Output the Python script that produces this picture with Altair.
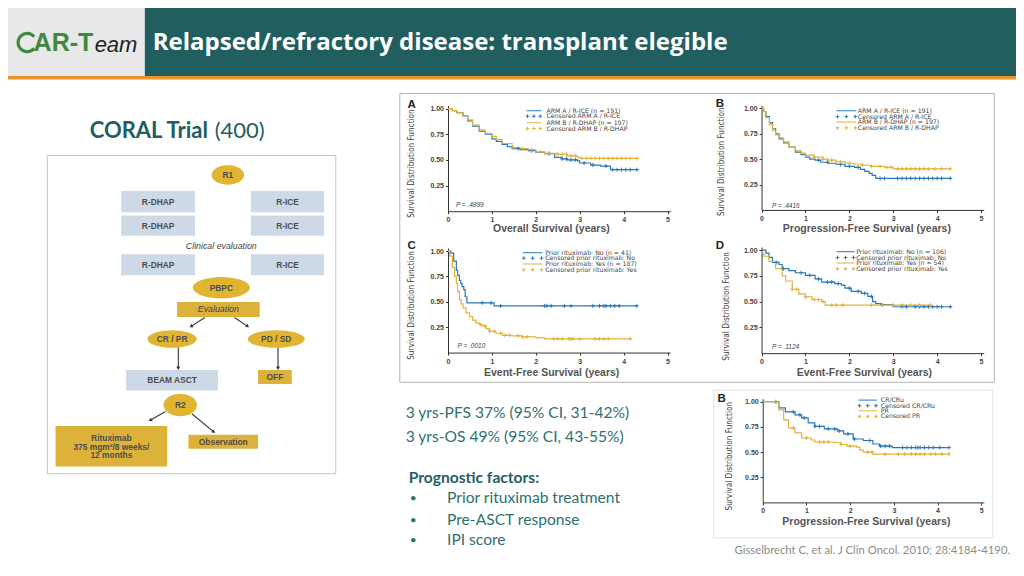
import math
import altair as alt
import pandas as pd

W, H = 1008, 560
SX, SY = W / 1024, H / 576

BLUE = "#2b78b8"
GOLD = "#e0b33a"

# ---------------- Kaplan-Meier curves ----------------
# Panel A - overall survival by arm
A_ICE_T = [0, 0.1, 0.2, 0.34, 0.45, 0.56, 0.71, 0.85, 1.0, 1.1, 1.23, 1.35, 1.46, 1.65, 1.83, 2.0, 2.2, 2.43, 2.6, 2.72, 2.95, 3.0, 3.25, 3.47, 3.7, 4.33]
A_ICE_S = [1.0, 0.98, 0.96, 0.93, 0.88, 0.83, 0.78, 0.75, 0.705, 0.68, 0.65, 0.63, 0.61, 0.60, 0.59, 0.575, 0.56, 0.525, 0.51, 0.50, 0.49, 0.47, 0.45, 0.44, 0.405, 0.40]
A_ICE_C = [1.6, 1.9, 2.3, 2.6, 2.7, 2.8, 2.9, 3.1, 3.3, 3.6, 3.75, 3.85, 3.95, 4.05, 4.15, 4.3]
A_DHAP_T = [0, 0.1, 0.2, 0.34, 0.45, 0.56, 0.71, 0.85, 1.0, 1.1, 1.23, 1.46, 1.65, 1.83, 2.0, 2.2, 2.5, 2.72, 2.95, 3.0, 4.33]
A_DHAP_S = [1.0, 0.98, 0.96, 0.93, 0.89, 0.84, 0.79, 0.76, 0.73, 0.70, 0.66, 0.62, 0.61, 0.60, 0.58, 0.565, 0.555, 0.54, 0.525, 0.515, 0.515]
A_DHAP_C = [1.5, 1.7, 1.9, 2.1, 2.3, 2.5, 2.6, 2.7, 2.8, 2.9, 3.05, 3.15, 3.25, 3.35, 3.45, 3.55, 3.65, 3.75, 3.85, 3.95, 4.05, 4.15, 4.3]

# Panel B - progression-free survival by arm
B_ICE_T = [0, 0.05, 0.1, 0.18, 0.25, 0.32, 0.4, 0.5, 0.62, 0.77, 0.9, 1.0, 1.1, 1.22, 1.35, 1.52, 1.7, 1.9, 2.12, 2.25, 2.35, 2.45, 2.52, 2.6, 4.3]
B_ICE_S = [1.0, 0.97, 0.92, 0.86, 0.80, 0.75, 0.70, 0.66, 0.62, 0.57, 0.545, 0.52, 0.50, 0.49, 0.47, 0.46, 0.45, 0.43, 0.42, 0.40, 0.38, 0.36, 0.34, 0.31, 0.31]
B_ICE_C = [1.3, 1.5, 1.8, 2.0, 2.2, 2.7, 2.8, 3.1, 3.2, 3.3, 3.4, 3.5, 3.6, 3.7, 3.8, 3.9, 4.0, 4.1, 4.3]
B_DHAP_T = [0, 0.05, 0.1, 0.18, 0.25, 0.32, 0.4, 0.5, 0.62, 0.77, 0.9, 1.0, 1.2, 1.4, 1.52, 1.7, 1.9, 2.1, 2.3, 2.5, 2.8, 3.0, 4.3]
B_DHAP_S = [1.0, 0.97, 0.91, 0.84, 0.78, 0.74, 0.71, 0.67, 0.62, 0.585, 0.56, 0.54, 0.52, 0.50, 0.49, 0.475, 0.46, 0.45, 0.44, 0.43, 0.42, 0.405, 0.405]
B_DHAP_C = [1.0, 1.2, 1.4, 1.6, 1.8, 2.0, 2.3, 2.5, 2.7, 2.85, 2.95, 3.1, 3.2, 3.3, 3.4, 3.5, 3.6, 3.7, 3.8, 3.95, 4.1, 4.3]

# Panel C - event-free survival by prior rituximab
C_NO_T = [0, 0.06, 0.13, 0.19, 0.22, 0.26, 0.29, 0.32, 0.36, 0.39, 0.43, 1.0, 1.05, 4.3]
C_NO_S = [1.0, 0.98, 0.90, 0.81, 0.76, 0.71, 0.68, 0.65, 0.62, 0.55, 0.49, 0.49, 0.46, 0.46]
C_NO_C = [0.78, 0.98, 1.2, 2.2, 2.25, 2.35, 2.65, 2.8, 3.3, 3.45, 3.55, 3.6, 3.7, 3.8, 3.9, 4.3]
C_YES_T = [0, 0.04, 0.1, 0.15, 0.19, 0.22, 0.26, 0.3, 0.34, 0.41, 0.49, 0.56, 0.64, 0.72, 0.79, 0.87, 0.94, 1.09, 1.24, 1.45, 1.69, 2.0, 2.2, 4.15]
C_YES_S = [1.0, 0.95, 0.84, 0.75, 0.68, 0.60, 0.52, 0.48, 0.44, 0.39, 0.355, 0.32, 0.29, 0.275, 0.26, 0.235, 0.21, 0.19, 0.17, 0.165, 0.155, 0.145, 0.135, 0.135]
C_YES_C = [0.75, 0.85, 0.95, 1.05, 1.2, 1.3, 1.4, 1.6, 1.7, 1.8, 2.4, 2.5, 2.6, 2.75, 2.8, 2.85, 3.0, 3.35, 3.45, 3.55, 3.65, 4.15]

# Panel D - event-free survival by prior rituximab (second cohort)
D_NO_T = [0, 0.1, 0.17, 0.25, 0.4, 0.47, 0.62, 0.77, 1.0, 1.22, 1.37, 1.67, 1.82, 1.9, 2.04, 2.27, 2.42, 2.53, 2.6, 2.72, 3.0, 4.33]
D_NO_S = [1.0, 0.97, 0.93, 0.88, 0.86, 0.82, 0.80, 0.78, 0.755, 0.72, 0.69, 0.675, 0.66, 0.63, 0.60, 0.58, 0.55, 0.50, 0.48, 0.47, 0.45, 0.45]
D_NO_C = [0.35, 0.5, 0.9, 1.1, 1.3, 1.5, 1.6, 1.75, 2.0, 2.2, 2.35, 2.5, 2.75, 3.2, 3.3, 3.5, 3.6, 3.7, 3.8, 3.9, 4.0, 4.1, 4.3]
D_YES_T = [0, 0.05, 0.17, 0.32, 0.47, 0.55, 0.7, 0.85, 1.0, 1.15, 1.37, 1.45, 3.85]
D_YES_S = [0.97, 0.94, 0.89, 0.82, 0.75, 0.70, 0.62, 0.575, 0.545, 0.52, 0.50, 0.465, 0.465]
D_YES_C = [0.7, 0.8, 1.0, 1.2, 1.3, 1.4, 1.6, 1.7, 1.85, 2.5, 2.75, 3.0, 3.2, 3.4, 3.6, 3.85]

# Panel B (bottom) - progression-free survival by pre-ASCT response
E_CR_T = [0, 0.26, 0.37, 0.52, 0.74, 0.89, 1.04, 1.19, 1.41, 1.71, 1.85, 2.07, 2.3, 2.52, 2.67, 2.96, 4.26]
E_CR_S = [1.0, 1.0, 0.94, 0.90, 0.87, 0.84, 0.79, 0.755, 0.73, 0.71, 0.68, 0.63, 0.615, 0.58, 0.56, 0.545, 0.545]
E_CR_C = [0.3, 0.7, 0.85, 0.95, 1.2, 1.3, 1.5, 1.65, 1.75, 1.95, 2.1, 2.45, 2.7, 2.8, 2.9, 3.2, 3.3, 3.4, 3.5, 3.55, 3.6, 3.7, 3.8, 3.9, 4.05, 4.26]
E_PR_T = [0, 0.26, 0.37, 0.48, 0.59, 0.74, 0.89, 1.11, 1.19, 1.63, 1.78, 1.93, 2.15, 2.22, 2.3, 2.52, 4.26]
E_PR_S = [1.0, 1.0, 0.92, 0.82, 0.74, 0.69, 0.64, 0.62, 0.60, 0.595, 0.575, 0.56, 0.55, 0.52, 0.50, 0.48, 0.48]
E_PR_C = [0.3, 0.7, 1.0, 1.3, 1.4, 1.5, 1.8, 2.0, 2.4, 2.5, 2.8, 3.1, 3.25, 3.4, 3.5, 3.6, 3.7, 3.85, 3.95, 4.1, 4.26]

X_TICKS = [0, 1, 2, 3, 4, 5]
Y_TICKS = [0.25, 0.5, 0.75, 1.0]

# ---------------- texts ----------------
TITLE = "Relapsed/refractory disease: transplant elegible"
LEG_A = ["ARM A / R-ICE (n = 191)", "Censored ARM A / R-ICE", "ARM B / R-DHAP (n = 197)", "Censored ARM B / R-DHAP"]
LEG_C = ["Prior rituximab: No (n = 41)", "Censored prior rituximab: No", "Prior rituximab: Yes (n = 187)", "Censored prior rituximab: Yes"]
LEG_D = ["Prior rituximab: No (n = 106)", "Censored prior rituximab: No", "Prior rituximab: Yes (n = 54)", "Censored prior rituximab: Yes"]
LEG_E = ["CR/CRu", "Censored CR/CRu", "PR", "Censored PR"]
P_VALUES = ["P = .4899", "P = .4416", "P = .0010", "P = .1124"]
LETTERS = ["A", "B", "C", "D", "B"]
X_TITLES = ["Overall Survival (years)", "Progression-Free Survival (years)", "Event-Free Survival (years)",
            "Event-Free Survival (years)", "Progression-Free Survival (years)"]
Y_TITLE = "Survival Distribution Function"
STATS = ["3 yrs-PFS 37% (95% CI, 31-42%)", "3 yrs-OS 49% (95% CI, 43-55%)"]
FACTORS = ["Prior rituximab treatment", "Pre-ASCT response", "IPI score"]
CITATION = "Gisselbrecht C, et al. J Clin Oncol. 2010; 28:4184-4190."

# ---------------- slide layout (slide pixel coordinates) ----------------
slide_x = alt.Scale(domain=[0, 1024], range=[0, W], nice=False, zero=False)
slide_y = alt.Scale(domain=[0, 576], range=[0, H], nice=False, zero=False)
NOAX = dict(axis=None)

FLOW_BLUE = "#cdd9e6"
FLOW_GOLD = "#dcb23a"
LOGO_GREEN = "#3d8a3f"

rect_rows = [
    (0, 0, 139, 70, "#e8e8e8"),
    (139, 0, 1024, 70, "#215e5f"),
    (0, 70, 1024, 73.5, "#e8962c"),
    (115, 188.3, 190, 210, FLOW_BLUE), (246.7, 188.3, 321, 210, FLOW_BLUE),
    (115, 213.3, 190, 234.3, FLOW_BLUE), (246.7, 213.3, 321, 234.3, FLOW_BLUE),
    (115, 253.3, 190, 275, FLOW_BLUE), (246.7, 253.3, 321, 275, FLOW_BLUE),
    (120, 372.3, 213.3, 393.3, FLOW_BLUE),
    (171.7, 302.3, 255.7, 317.7, FLOW_GOLD),
    (254, 372.3, 288.3, 386.7, FLOW_GOLD),
    (48.3, 430, 161.7, 471.7, FLOW_GOLD),
    (183.3, 439, 254, 453.3, FLOW_GOLD),
]
frame_rows = [
    (40, 151.7, 333, 479, "#c4c4c4"),
    (398, 88, 1002, 385, "#b4b4b4"),
    (717, 393, 1000, 545, "#e2e2e2"),
]
ellipse_rows = [  # cx, cy, w, h
    (223.3, 171.7, 33, 20), (216.7, 287.7, 58, 22), (166.7, 340.5, 50, 18),
    (272.5, 340.5, 58, 18), (175, 408.3, 34, 23),
]
arrow_rows = [
    (200, 318.3, 186, 327.5), (230, 318.3, 243.5, 327.5),
    (173, 349.3, 173, 370.5), (274.3, 349.3, 274.3, 370.5),
    (160, 415, 144.5, 424), (186.7, 417.3, 209, 436),
]


def rect_df(rows):
    return pd.DataFrame(rows, columns=["x", "y", "x2", "y2", "c"])


rects = alt.Chart(rect_df(rect_rows)).mark_rect().encode(
    x=alt.X("x:Q", scale=slide_x, **NOAX), x2="x2:Q",
    y=alt.Y("y:Q", scale=slide_y, **NOAX), y2="y2:Q",
    color=alt.Color("c:N", scale=None))

frames = alt.Chart(rect_df(frame_rows)).mark_rect(filled=False, strokeWidth=1).encode(
    x=alt.X("x:Q", scale=slide_x, **NOAX), x2="x2:Q",
    y=alt.Y("y:Q", scale=slide_y, **NOAX), y2="y2:Q",
    color=alt.Color("c:N", scale=None))


def ellipse_path(ratio, n=36):
    pts = []
    for i in range(n):
        a = 2 * math.pi * i / n
        pts.append(f"{math.cos(a):.4f},{ratio * math.sin(a):.4f}")
    return "M" + "L".join(pts) + "Z"


ell_df = pd.DataFrame([
    dict(x=cx, y=cy, shape=ellipse_path((h * SY) / (w * SX)), size=(w * SX) ** 2, c="#e1b531")
    for cx, cy, w, h in ellipse_rows])
ellipses = alt.Chart(ell_df).mark_point(filled=True, opacity=1, strokeWidth=0).encode(
    x=alt.X("x:Q", scale=slide_x, **NOAX), y=alt.Y("y:Q", scale=slide_y, **NOAX),
    shape=alt.Shape("shape:N", scale=None), size=alt.Size("size:Q", scale=None),
    color=alt.Color("c:N", scale=None))

# logo "C": an open ring
c_pts = []
for i in range(31):
    a = math.radians(40 + 280 * i / 30)
    c_pts.append(f"{math.cos(a):.4f},{math.sin(a):.4f}")
C_PATH = "M" + "L".join(c_pts)
ring = alt.Chart(pd.DataFrame([dict(x=19.5, y=35.5)])).mark_point(
    shape=C_PATH, filled=False, size=330, strokeWidth=3.2, color=LOGO_GREEN, opacity=1).encode(
    x=alt.X("x:Q", scale=slide_x, **NOAX), y=alt.Y("y:Q", scale=slide_y, **NOAX))

arr_df = pd.DataFrame(arrow_rows, columns=["x", "y", "x2", "y2"])
arr_df["ang"] = [(math.degrees(math.atan2(-(x2 - x) * SX, (y2 - y) * SY)) + 360) % 360
                 for x, y, x2, y2 in arrow_rows]
arrow_lines = alt.Chart(arr_df).mark_rule(color="#333333", strokeWidth=1.1).encode(
    x=alt.X("x:Q", scale=slide_x, **NOAX), x2="x2:Q",
    y=alt.Y("y:Q", scale=slide_y, **NOAX), y2="y2:Q")
arrow_heads = alt.Chart(arr_df).mark_point(shape="triangle-down", filled=True, opacity=1,
                                           size=16, color="#333333").encode(
    x=alt.X("x2:Q", scale=slide_x, **NOAX), y=alt.Y("y2:Q", scale=slide_y, **NOAX),
    angle=alt.Angle("ang:Q", scale=None))


def text_layer(rows, font, weight="normal", style="normal", align="left"):
    df = pd.DataFrame(rows, columns=["x", "y", "text", "size", "c", "angle"])
    return alt.Chart(df).mark_text(font=font, fontWeight=weight, fontStyle=style,
                                   align=align, baseline="middle").encode(
        x=alt.X("x:Q", scale=slide_x, **NOAX), y=alt.Y("y:Q", scale=slide_y, **NOAX),
        text="text:N", size=alt.Size("size:Q", scale=None),
        color=alt.Color("c:N", scale=None), angle=alt.Angle("angle:Q", scale=None))


LATO = "Lato, Open Sans, sans-serif"
OPEN = "Open Sans, Lato, sans-serif"
ARIAL = "Liberation Sans, Arial, sans-serif"
DEJAVU = "DejaVu Sans, Liberation Sans, sans-serif"
NARROW = "Liberation Sans Narrow, DejaVu Sans Condensed, Liberation Sans, sans-serif"
FLOW_TXT = "#4d4d4d"

texts = []
# header
texts.append(text_layer([(147, 36, TITLE, 24, "#ffffff", 0)], OPEN, "bold"))
texts.append(text_layer([(26, 36, "AR-T", 25, LOGO_GREEN, 0)], ARIAL, "bold"))
texts.append(text_layer([(88, 38, "eam", 22, "#222222", 0)], ARIAL, "normal", "italic"))
# CORAL heading
texts.append(text_layer([(83, 126, "CORAL Trial", 22, "#215e5f", 0)], LATO, "bold"))
texts.append(text_layer([(210, 126, "(400)", 22, "#215e5f", 0)], LATO))
# flowchart labels
flow_bold = [
    (223.3, 171.7, "R1"),
    (152.5, 199.2, "R-DHAP"), (284, 199.2, "R-ICE"),
    (152.5, 223.8, "R-DHAP"), (284, 223.8, "R-ICE"),
    (152.5, 264.2, "R-DHAP"), (284, 264.2, "R-ICE"),
    (216.7, 287.7, "PBPC"), (166.7, 340.5, "CR / PR"), (272.5, 340.5, "PD / SD"),
    (166.7, 382.8, "BEAM ASCT"), (271.2, 379.5, "OFF"), (175, 408.3, "R2"),
    (105, 442.7, "Rituximab"), (105, 451.2, "375 mgm²/8 weeks/"), (105, 459.6, "12 months"),
    (218.7, 446.2, "Observation"),
]
texts.append(text_layer([(x, y, t, 8.4, FLOW_TXT, 0) for x, y, t in flow_bold], ARIAL, "bold", align="center"))
texts.append(text_layer([(216.7, 244.3, "Clinical evaluation", 8.8, "#444444", 0),
                         (213.7, 310, "Evaluation", 8.8, "#444444", 0)], ARIAL, "normal", "italic", "center"))
# bottom-left statistics
texts.append(text_layer([(404, 417, STATS[0], 15.6, "#2f7070", 0),
                         (404, 441.5, STATS[1], 15.6, "#2f7070", 0)], LATO))
texts.append(text_layer([(407, 483, "Prognostic factors:", 15.6, "#255f5f", 0)], LATO, "bold"))
texts.append(text_layer([(408, y, "•", 12, "#2f7070", 0) for y in (504, 526.5, 547)] +
                        [(446, y, t, 15.6, "#2f7070", 0) for y, t in zip((504, 526.5, 547), FACTORS)], LATO))
texts.append(text_layer([(738, 558, CITATION, 11.3, "#8c8c8c", 0)], LATO))

# ---------------- Kaplan-Meier panels ----------------
PLUS = "M-1,0L1,0M0,-1L0,1"
XMAX, YMAX = 5.06, 1.03

PANELS = [
    dict(geo=(447, 670, 209, 103.5), curves=[(A_ICE_T, A_ICE_S, A_ICE_C, BLUE), (A_DHAP_T, A_DHAP_S, A_DHAP_C, GOLD)],
         legend=LEG_A, sw=(526.7, 541.7), tx=547, rows=(105.7, 111.3, 118, 124),
         letter=(410, 100), p=(455, 203), xt=(552, 227), yt=(410, 160)),
    dict(geo=(765.5, 988.5, 207.7, 103.3), curves=[(B_ICE_T, B_ICE_S, B_ICE_C, BLUE), (B_DHAP_T, B_DHAP_S, B_DHAP_C, GOLD)],
         legend=LEG_A, sw=(841.7, 861.7), tx=863.3, rows=(105.7, 111.7, 117.3, 123.3),
         letter=(723.3, 99), p=(776, 203.3), xt=(872.5, 227), yt=(725, 158)),
    dict(geo=(447, 670, 354.4, 250), curves=[(C_NO_T, C_NO_S, C_NO_C, BLUE), (C_YES_T, C_YES_S, C_YES_C, GOLD)],
         legend=LEG_C, sw=(523, 543), tx=545.7, rows=(251.7, 257.3, 263.3, 269.3),
         letter=(410, 245), p=(456.7, 347.7), xt=(552.3, 375.5), yt=(410, 306)),
    dict(geo=(765.5, 988.5, 355, 249), curves=[(D_NO_T, D_NO_S, D_NO_C, BLUE), (D_YES_T, D_YES_S, D_YES_C, GOLD)],
         legend=LEG_D, sw=(841.7, 860), tx=861.7, rows=(250.7, 256.7, 262.3, 268.3),
         letter=(723.3, 245), p=(776, 348.3), xt=(870, 375.5), yt=(730, 307)),
    dict(geo=(766.7, 988.7, 508.5, 405), curves=[(E_CR_T, E_CR_S, E_CR_C, BLUE), (E_PR_T, E_PR_S, E_PR_C, GOLD)],
         legend=LEG_E, sw=(864, 882.7), tx=886.7, rows=(403.3, 409, 414.3, 420),
         letter=(725, 401.7), p=None, xt=(872, 529), yt=(733.3, 461)),
]


def step_at(ts, ss, t):
    v = ss[0]
    for ti, si in zip(ts, ss):
        if ti <= t:
            v = si
        else:
            break
    return v


panel_charts = []
leg_rules, leg_plus, leg_text, letters, pvals, xtitles, ytitles = [], [], [], [], [], [], []
for i, P in enumerate(PANELS):
    x0, x5, y0, y1 = P["geo"]
    xs = alt.Scale(domain=[0, XMAX], range=[x0 * SX, (x0 + (x5 - x0) * XMAX / 5) * SX], nice=False, zero=False)
    ys = alt.Scale(domain=[0, YMAX], range=[y0 * SY, (y0 - (y0 - y1) * YMAX) * SY], nice=False, zero=False)
    common = dict(grid=False, tickSize=2.5, tickColor="#333333", domainColor="#333333", domainWidth=1,
                  labelFontSize=7, labelColor="#444444", labelFont=ARIAL, labelFontWeight="bold",
                  labelPadding=2, labelFlush=False, labelOverlap=False)
    xax = alt.Axis(orient="bottom", offset=y0 * SY - H, values=X_TICKS, format="d", **common)
    yax = alt.Axis(orient="left", offset=-x0 * SX, values=Y_TICKS, format=".2f", **common)

    line_rows, cen_rows = [], []
    for k, (ts, ss, cs, col) in enumerate(P["curves"]):
        for t, s in zip(ts, ss):
            line_rows.append(dict(t=t, s=s, k=k, c=col))
        for t in cs:
            cen_rows.append(dict(t=t, s=step_at(ts, ss, t), k=k, c=col))
    lines = alt.Chart(pd.DataFrame(line_rows)).mark_line(interpolate="step-after", strokeWidth=1.2).encode(
        x=alt.X("t:Q", scale=xs, axis=xax, title=None),
        y=alt.Y("s:Q", scale=ys, axis=yax, title=None),
        color=alt.Color("c:N", scale=None), detail="k:N")
    cens = alt.Chart(pd.DataFrame(cen_rows)).mark_point(shape=PLUS, filled=False, size=16, strokeWidth=1, opacity=1).encode(
        x=alt.X("t:Q", scale=xs, axis=xax, title=None),
        y=alt.Y("s:Q", scale=ys, axis=yax, title=None),
        color=alt.Color("c:N", scale=None))
    panel_charts.append(alt.layer(lines, cens))

    # legend
    sx0, sx1 = P["sw"]
    r = P["rows"]
    leg_rules.append((sx0, r[0], sx1, r[0], BLUE))
    leg_rules.append((sx0, r[2], sx1, r[2], GOLD))
    for xx in (sx0 + 1, (sx0 + sx1) / 2, sx1 - 1):
        leg_plus.append((xx, r[1], BLUE))
        leg_plus.append((xx, r[3], GOLD))
    for rr, lab in zip(r, P["legend"]):
        leg_text.append((P["tx"], rr, lab, 6.2, "#444444", 0))
    letters.append((P["letter"][0], P["letter"][1], LETTERS[i], 11.5, "#222222", 0))
    if P["p"] is not None:
        pvals.append((P["p"][0], P["p"][1], P_VALUES[i], 6.5, "#444444", 0))
    xtitles.append((P["xt"][0], P["xt"][1], X_TITLES[i], 10.5, "#555555", 0))
    ytitles.append((P["yt"][0], P["yt"][1], Y_TITLE, 8.2, "#3a3a3a", 270))

lr = pd.DataFrame(leg_rules, columns=["x", "y", "x2", "y2", "c"])
legend_lines = alt.Chart(lr).mark_rule(strokeWidth=1).encode(
    x=alt.X("x:Q", scale=slide_x, **NOAX), x2="x2:Q",
    y=alt.Y("y:Q", scale=slide_y, **NOAX), y2="y2:Q",
    color=alt.Color("c:N", scale=None))
lp = pd.DataFrame(leg_plus, columns=["x", "y", "c"])
legend_plus = alt.Chart(lp).mark_point(shape=PLUS, filled=False, size=14, strokeWidth=1, opacity=1).encode(
    x=alt.X("x:Q", scale=slide_x, **NOAX), y=alt.Y("y:Q", scale=slide_y, **NOAX),
    color=alt.Color("c:N", scale=None))

texts.append(text_layer(leg_text, DEJAVU))
texts.append(text_layer(letters, ARIAL, "bold", align="center"))
texts.append(text_layer(pvals, ARIAL, "normal", "italic"))
texts.append(text_layer(xtitles, ARIAL, "bold", align="center"))
texts.append(text_layer(ytitles, NARROW, align="center"))

deco = alt.layer(rects, frames, ellipses, ring, arrow_lines, arrow_heads, legend_lines, legend_plus, *texts)

chart = alt.layer(deco, *panel_charts).resolve_scale(x="independent", y="independent").properties(
    width=W, height=H, padding=0, autosize=alt.AutoSizeParams(type="none"), background="#ffffff"
).configure_view(strokeWidth=0)

chart.save("out.html", embed_options={"renderer": "svg", "actions": False})
